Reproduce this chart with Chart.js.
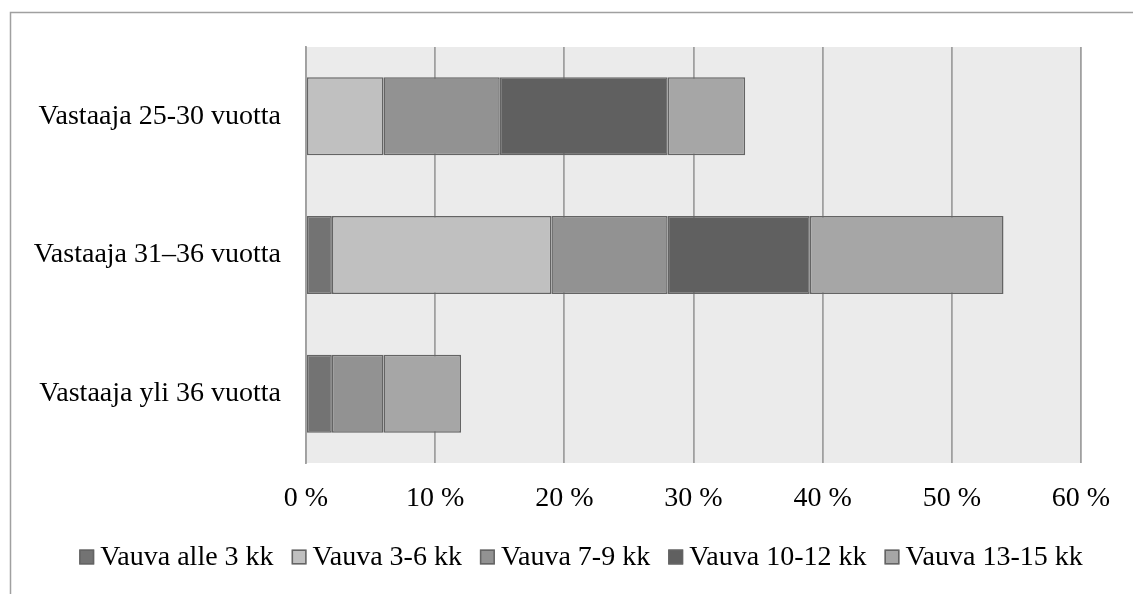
<!DOCTYPE html>
<html>
<head>
<meta charset="utf-8">
<script src="https://cdn.jsdelivr.net/npm/chart.js@4"></script>
<style>
  html, body { margin: 0; padding: 0; background: #ffffff; }
  #wrap { width: 1133px; height: 594px; position: relative; }
</style>
</head>
<body>
<div id="wrap"><canvas id="c" width="1133" height="594"></canvas></div>
<script>
const categories = ["Vastaaja 25-30 vuotta", "Vastaaja 31\u201336 vuotta", "Vastaaja yli 36 vuotta"];
const seriesNames = ["Vauva alle 3 kk", "Vauva 3-6 kk", "Vauva 7-9 kk", "Vauva 10-12 kk", "Vauva 13-15 kk"];
const alle3 = [null, 2, 2];
const kk3_6 = [6, 17, null];
const kk7_9 = [9, 9, 4];
const kk10_12 = [13, 11, null];
const kk13_15 = [6, 15, 6];
const tickValues = [0, 10, 20, 30, 40, 50, 60];
const seriesColors = ["#737373", "#c0c0c0", "#929292", "#606060", "#a6a6a6"];
const seriesValues = [alle3, kk3_6, kk7_9, kk10_12, kk13_15];

const FONT_FAMILY = "'Liberation Serif', 'Times New Roman', serif";
Chart.defaults.font.family = FONT_FAMILY;
Chart.defaults.font.size = 28;
Chart.defaults.color = "#000000";

const framePlugin = {
  id: 'frame',
  beforeDraw(chart) {
    const ctx = chart.ctx;
    const a = chart.chartArea;
    ctx.save();
    ctx.fillStyle = '#ffffff';
    ctx.fillRect(0, 0, chart.width, chart.height);
    ctx.strokeStyle = '#a0a0a0';
    ctx.lineWidth = 1.5;
    ctx.beginPath();
    ctx.moveTo(10.5, chart.height);
    ctx.lineTo(10.5, 12.5);
    ctx.lineTo(chart.width, 12.5);
    ctx.stroke();
    ctx.fillStyle = '#ebebeb';
    ctx.fillRect(a.left, a.top, a.right - a.left, a.bottom - a.top);
    ctx.restore();
  }
};

// Legend drawn from the chart's own datasets (one row, centred like the original)
const legendPlugin = {
  id: 'rowLegend',
  afterDraw(chart) {
    const ctx = chart.ctx;
    const box = 15, gapText = 6, gapItem = 18, centerX = 581, centerY = 557;
    ctx.save();
    ctx.font = "28px " + FONT_FAMILY;
    const items = chart.data.datasets.map(ds => ({
      text: ds.label, fill: ds.backgroundColor, stroke: ds.borderColor,
      w: ctx.measureText(ds.label).width
    }));
    let total = 0;
    items.forEach((it, i) => { total += box + gapText + it.w + (i < items.length - 1 ? gapItem : 0); });
    let x = centerX - total / 2;
    ctx.textBaseline = 'middle';
    ctx.textAlign = 'left';
    items.forEach(it => {
      ctx.fillStyle = it.fill;
      ctx.fillRect(x, centerY - box / 2, box, box);
      ctx.strokeStyle = it.stroke;
      ctx.lineWidth = 1.5;
      ctx.strokeRect(x + 0.75, centerY - box / 2 + 0.75, box - 1.5, box - 1.5);
      ctx.fillStyle = '#000000';
      ctx.fillText(it.text, x + box + gapText, centerY + 1);
      x += box + gapText + it.w + gapItem;
    });
    ctx.restore();
  }
};

new Chart(document.getElementById('c'), {
  type: 'bar',
  data: {
    labels: categories,
    datasets: seriesNames.map((n, i) => ({
      label: n,
      data: seriesValues[i],
      backgroundColor: seriesColors[i],
      borderColor: '#646464',
      borderWidth: 1.5,
      borderSkipped: false,
      barPercentage: 0.5625,
      categoryPercentage: 1
    }))
  },
  options: {
    indexAxis: 'y',
    responsive: false,
    animation: false,
    devicePixelRatio: 1,
    layout: { padding: { left: 0, right: 52, top: 47, bottom: 60 } },
    plugins: {
      tooltip: { enabled: false },
      legend: { display: false }
    },
    scales: {
      x: {
        stacked: true,
        min: 0,
        max: 60,
        afterBuildTicks(scale) { scale.ticks = tickValues.map(v => ({ value: v })); },
        afterFit(scale) { scale.height = 71; },
        ticks: {
          padding: 19,
          callback: (v) => v + ' %',
          font: { size: 28 },
          color: '#000000',
          maxRotation: 0
        },
        grid: { color: '#a0a0a0', lineWidth: 1.8, drawTicks: false },
        border: { display: false }
      },
      y: {
        stacked: true,
        afterFit(scale) { scale.width = 306; },
        ticks: { padding: 25, font: { size: 28 }, color: '#000000' },
        grid: { display: false, drawTicks: false },
        border: { display: true, color: '#a0a0a0', width: 1.8 }
      }
    }
  },
  plugins: [framePlugin, legendPlugin]
});
</script>
</body>
</html>
